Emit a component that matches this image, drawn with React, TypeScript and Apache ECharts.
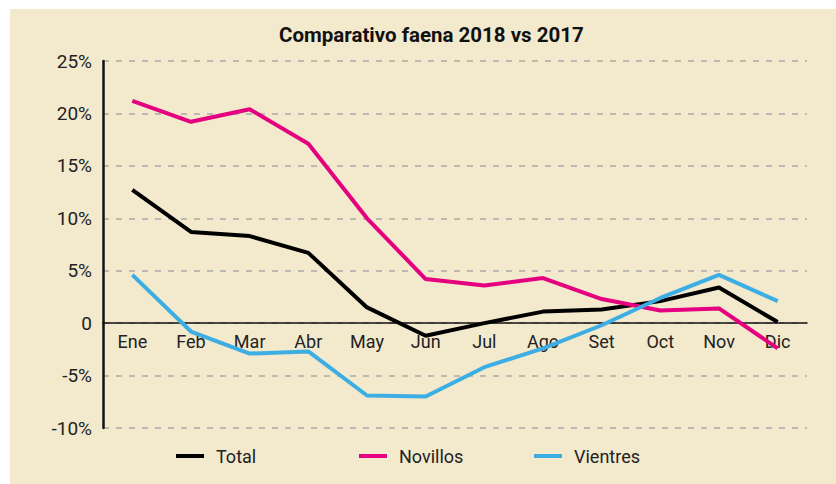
import React, { useEffect, useRef } from "react";
import * as echarts from "echarts";

const months = ["Ene", "Feb", "Mar", "Abr", "May", "Jun", "Jul", "Ago", "Set", "Oct", "Nov", "Dic"];
const total = [12.7, 8.7, 8.3, 6.7, 1.5, -1.2, 0.0, 1.1, 1.3, 2.1, 3.4, 0.1];
const novillos = [21.2, 19.2, 20.4, 17.1, 10.0, 4.2, 3.6, 4.3, 2.3, 1.2, 1.4, -2.4];
const vientres = [4.6, -0.8, -2.9, -2.7, -6.9, -7.0, -4.2, -2.4, -0.2, 2.4, 4.6, 2.1];
const yMin = -10;
const yMax = 25;
const yStep = 5;

const FONT = "Roboto, 'Liberation Sans', sans-serif";

export default function App() {
  const ref = useRef<HTMLDivElement>(null);
  useEffect(() => {
    if (!ref.current) return;
    const chart = echarts.init(ref.current, undefined, { renderer: "svg" });
    const gridTop = 61;
    const gridBottom = 56;
    const gridHeight = 484 - gridTop - gridBottom;
    const zeroFromBottom = (gridHeight * (0 - yMin)) / (yMax - yMin);

    const mkSeries = (name: string, data: number[], color: string) => ({
      name,
      type: "line",
      data,
      symbol: "none",
      lineStyle: { color, width: 4 },
      itemStyle: { color },
      z: 3,
    });
    const mkLegend = (name: string, left: number) => ({
      data: [name],
      left,
      top: 447,
      padding: 0,
      icon: "rect",
      itemWidth: 28,
      itemHeight: 4,
      textStyle: { fontFamily: FONT, fontSize: 18, color: "#222", padding: [0, 0, 0, 7] },
    });
    chart.setOption({
      animation: false,
      backgroundColor: "#ffffff",
      graphic: [
        {
          type: "rect",
          shape: { x: 10, y: 9, width: 826, height: 475 },
          style: { fill: "#F3E9CD" },
          z: -10,
          silent: true,
        },
      ],
      title: {
        text: "Comparativo faena 2018 vs 2017",
        left: 279,
        top: 24,
        padding: 0,
        textStyle: { fontFamily: FONT, fontSize: 20.5, fontWeight: "bold", color: "#111" },
      },
      legend: [mkLegend("Total", 176), mkLegend("Novillos", 359), mkLegend("Vientres", 534)],
      grid: { left: 103, right: 29, top: gridTop, bottom: gridBottom, containLabel: false },
      xAxis: {
        type: "category",
        data: months,
        boundaryGap: true,
        position: "bottom",
        offset: -zeroFromBottom,
        axisLine: { show: true, onZero: false, lineStyle: { color: "#111", width: 1.5 } },
        axisTick: { show: false },
        axisLabel: { fontFamily: FONT, fontSize: 18, color: "#222", margin: 9 },
        splitLine: { show: false },
        z: 2,
      },
      yAxis: {
        type: "value",
        min: yMin,
        max: yMax,
        interval: yStep,
        axisLine: { show: true, lineStyle: { color: "#111", width: 2.5 } },
        axisTick: { show: false },
        axisLabel: {
          fontFamily: FONT,
          fontSize: 19,
          color: "#222",
          margin: 11,
          formatter: (v: number) => (v === 0 ? "0" : v + "%"),
        },
        splitLine: {
          show: true,
          lineStyle: { color: "#A9A9A9", width: 1.5, type: [6, 7] },
        },
      },
      series: [
        mkSeries("Total", total, "#000000"),
        mkSeries("Novillos", novillos, "#E4007F"),
        mkSeries("Vientres", vientres, "#3DAEE3"),
      ],
    });
    return () => chart.dispose();
  }, []);
  return (
    <div
      ref={ref}
      style={{ position: "absolute", left: 0, top: 0, width: 836, height: 484 }}
    />
  );
}
